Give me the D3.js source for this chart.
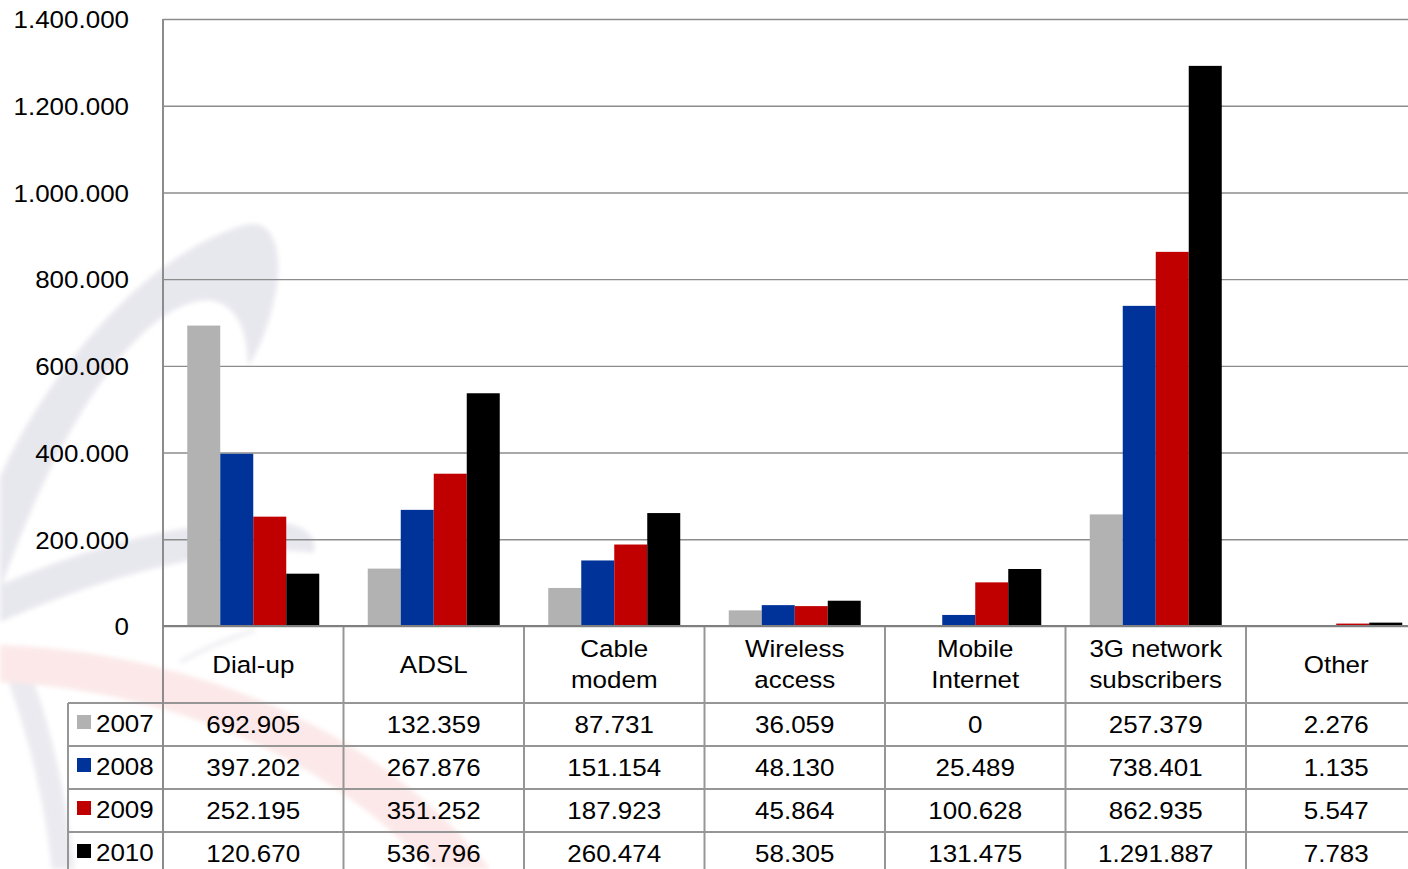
<!DOCTYPE html>
<html>
<head>
<meta charset="utf-8">
<script src="https://cdn.jsdelivr.net/npm/d3@7"></script>
<style>
  html, body { margin: 0; padding: 0; background: #fff; overflow: hidden; }
  svg { display: block; }
  text { font-family: "Liberation Sans", Arial, sans-serif; fill: #000; }
</style>
</head>
<body>
<svg id="chart" width="1408" height="869"></svg>
<script>
// ---- data ----
const categories = ["Dial-up", "ADSL", "Cable\nmodem", "Wireless\naccess", "Mobile\nInternet", "3G network\nsubscribers", "Other"];
const years = ["2007", "2008", "2009", "2010"];
const values2007 = [692905, 132359, 87731, 36059, 0, 257379, 2276];
const values2008 = [397202, 267876, 151154, 48130, 25489, 738401, 1135];
const values2009 = [252195, 351252, 187923, 45864, 100628, 862935, 5547];
const values2010 = [120670, 536796, 260474, 58305, 131475, 1291887, 7783];
const yTicks = [0, 200000, 400000, 600000, 800000, 1000000, 1200000, 1400000];
const colors = ["#b2b2b2", "#003399", "#c00000", "#000000"];

const series = [values2007, values2008, values2009, values2010];

// ---- layout ----
const W = 1408, H = 869;
const plotLeft = 163, plotTop = 19, plotBottom = 626;
const colW = 180.5;
const FS = 24.5, SX = 1.06;

const svg = d3.select("#chart");
const fmt = d3.formatLocale({ decimal: ",", thousands: ".", grouping: [3], currency: ["", ""] }).format(",");

// ---- watermark (decorative) ----
const defs = svg.append("defs");
defs.append("filter").attr("id", "soft").attr("x", "-10%").attr("y", "-10%").attr("width", "120%").attr("height", "120%")
  .append("feGaussianBlur").attr("stdDeviation", 2.5);
const wm = svg.append("g").attr("class", "watermark").attr("filter", "url(#soft)");
wm.append("path")
  .attr("d", "M0,478 C40,385 140,255 245,225 C272,218 283,248 276,290 C270,322 260,348 248,366 C248,330 236,300 205,300 C140,305 60,420 0,590 Z")
  .attr("fill", "#e7e7ee");
wm.append("path")
  .attr("d", "M0,585 C60,560 150,525 260,521 C300,520 320,535 313,553 C270,544 150,555 0,622 Z")
  .attr("fill", "#e7e7ee");
wm.append("path")
  .attr("d", "M0,662 C25,718 45,800 52,869 L74,869 C66,790 48,712 22,652 Z")
  .attr("fill", "#eaeaf0");
wm.append("path")
  .attr("d", "M0,645 C150,650 360,705 490,869 L430,869 C320,750 160,690 0,682 Z")
  .attr("fill", "#fce8e8");
wm.append("path")
  .attr("d", "M180,662 C205,648 230,638 255,630")
  .attr("stroke", "#eeeef2").attr("stroke-width", 4).attr("fill", "none");

// ---- scales ----
const x = d3.scaleBand().domain(categories).range([plotLeft, plotLeft + colW * categories.length]).padding(0);
const xInner = d3.scaleBand().domain(years).range([24.25, colW - 24.25]).padding(0);
const y = d3.scaleLinear().domain([0, 1400000]).range([plotBottom, plotTop]);

// ---- gridlines ----
const grid = svg.append("g").attr("transform", `translate(${plotLeft},0)`)
  .call(d3.axisLeft(y).tickValues(yTicks).tickSize(-(W - plotLeft)).tickFormat(""));
grid.select(".domain").remove();
grid.selectAll("line").attr("stroke", "#8c8c8c").attr("stroke-width", 1.4);

// ---- y labels ----
const yLab = svg.append("g").attr("transform", `translate(${plotLeft},0)`)
  .call(d3.axisLeft(y).tickValues(yTicks).tickSize(0).tickPadding(34).tickFormat(fmt));
yLab.select(".domain").remove();
yLab.selectAll("text")
  .attr("font-size", FS)
  .attr("font-family", "Liberation Sans, Arial, sans-serif")
  .attr("fill", "#000")
  .attr("x", -34 / SX)
  .attr("dy", "0.36em")
  .attr("transform", `scale(${SX},1)`);

// ---- bars ----
const groups = svg.append("g").selectAll("g")
  .data(categories)
  .join("g")
  .attr("transform", d => `translate(${x(d)},0)`);

groups.selectAll("rect")
  .data((d, i) => years.map((yr, j) => ({ yr, j, v: series[j][i] })))
  .join("rect")
  .attr("x", d => xInner(d.yr))
  .attr("width", xInner.bandwidth())
  .attr("y", d => y(d.v))
  .attr("height", d => plotBottom - y(d.v))
  .attr("fill", d => colors[d.j]);

// ---- data table ----
const rowY = d3.scaleBand().domain(years).range([703, 703 + 43 * years.length]);
const lineColor = "#969696";
const tbl = svg.append("g");

function addText(g, tx, ty, str, anchor) {
  g.append("text")
    .attr("transform", `translate(${tx},${ty}) scale(${SX},1)`)
    .attr("text-anchor", anchor)
    .attr("font-size", FS)
    .text(str);
}

// header labels
categories.forEach(c => {
  const cx = x(c) + colW / 2;
  const parts = c.split("\n");
  if (parts.length === 1) {
    addText(tbl, cx, 673, parts[0], "middle");
  } else {
    addText(tbl, cx, 657, parts[0], "middle");
    addText(tbl, cx, 688, parts[1], "middle");
  }
});

// values
years.forEach((yr, j) => {
  const cy = rowY(yr) + rowY.bandwidth() / 2;
  categories.forEach((c, i) => {
    addText(tbl, x(c) + colW / 2, cy + 8.6, fmt(series[j][i]), "middle");
  });
  // legend key
  tbl.append("rect")
    .attr("x", 77).attr("y", cy - 9.5)
    .attr("width", 14).attr("height", 14)
    .attr("fill", colors[j]);
  addText(tbl, 96, cy + 7.6, yr, "start");
});

// table lines
const tLines = svg.append("g").attr("stroke", lineColor).attr("stroke-width", 2).attr("fill", "none");
years.forEach(yr => {
  tLines.append("line").attr("x1", 68).attr("x2", W).attr("y1", rowY(yr)).attr("y2", rowY(yr));
});
categories.slice(1).forEach(c => {
  tLines.append("line").attr("x1", x(c)).attr("x2", x(c)).attr("y1", plotBottom).attr("y2", H);
});
tLines.append("line").attr("x1", 68).attr("x2", 68).attr("y1", 703).attr("y2", H);

// axes lines
svg.append("line").attr("x1", plotLeft).attr("x2", plotLeft).attr("y1", plotTop).attr("y2", H)
  .attr("stroke", "#8c8c8c").attr("stroke-width", 2);
svg.append("line").attr("x1", plotLeft).attr("x2", W).attr("y1", plotBottom).attr("y2", plotBottom)
  .attr("stroke", "#7f7f7f").attr("stroke-width", 2);
</script>
</body>
</html>
